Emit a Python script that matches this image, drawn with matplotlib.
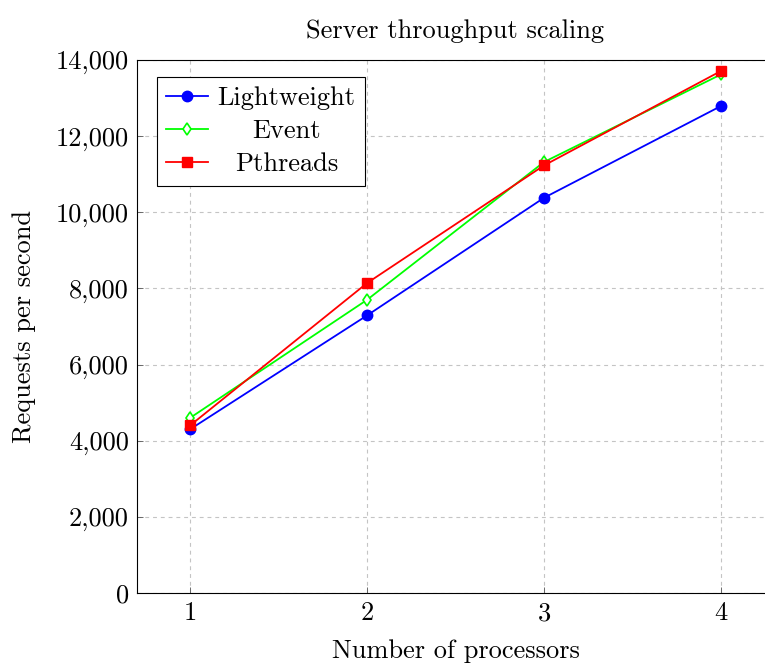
import matplotlib
matplotlib.use('Agg')
import matplotlib.pyplot as plt
import matplotlib.ticker as mticker

plt.rcParams['font.family'] = 'serif'
plt.rcParams['font.serif'] = ['cmr10', 'DejaVu Serif']
plt.rcParams['axes.formatter.use_mathtext'] = True
plt.rcParams['font.size'] = 19

processors = [1, 2, 3, 4]
lightweight = [4300, 7290, 10380, 12790]
event = [4600, 7700, 11320, 13620]
pthreads = [4400, 8140, 11230, 13710]

fig = plt.figure(figsize=(7.65, 6.64), dpi=100)
ax = fig.add_axes([137/765, 71/664, 637/765, 533/664])

ax.plot(processors, lightweight, color='blue', lw=1.3, marker='o', ms=7.5, label='Lightweight', zorder=3)
ax.plot(processors, event, color=(0, 1, 0), lw=1.3, marker='d', ms=6.5, mfc='white', mec=(0, 1, 0), mew=1.2, label='Event', zorder=3)
ax.plot(processors, pthreads, color='red', lw=1.3, marker='s', ms=7.5, label='Pthreads', zorder=3)

ax.set_xlim(0.7, 4.3)
ax.set_ylim(0, 14000)
ax.set_xticks(processors)
ax.set_yticks(range(0, 14001, 2000))
ax.yaxis.set_major_formatter(mticker.FuncFormatter(lambda v, p: f'{int(v):,}'))
ax.tick_params(direction='in', length=4, width=0.6, color='#555555', pad=6)
ax.grid(True, color='#c4c4c4', ls=(0, (3.5, 3.5)), lw=0.8)
for s in ax.spines.values():
    s.set_linewidth(0.8)

ax.set_title('Server throughput scaling', fontsize=19, pad=16)
ax.set_xlabel('Number of processors', labelpad=10)
ax.set_ylabel('Requests per second', labelpad=14)

leg = ax.legend(loc='upper left', bbox_to_anchor=(20/637, 1 - 17/533), fancybox=False,
                edgecolor='black', framealpha=1, borderaxespad=0, handlelength=1.6,
                handletextpad=0.35, labelspacing=0.36, borderpad=0.35)
leg.get_frame().set_linewidth(0.8)

# center legend labels the way pgfplots does
fig.canvas.draw()
r = fig.canvas.get_renderer()
ws = [t.get_window_extent(r).width for t in leg.get_texts()]
for t, w in zip(leg.get_texts(), ws):
    t.set_position(((max(ws) - w) / 2, 0))

fig.savefig('out.png', dpi=100)
